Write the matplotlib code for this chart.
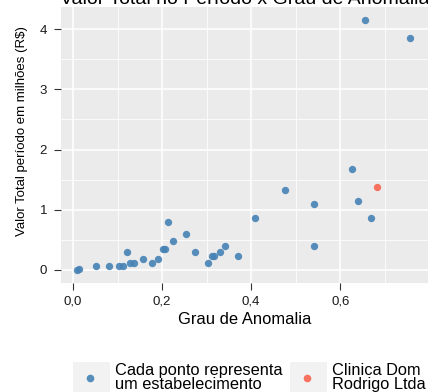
import numpy as np
import matplotlib.pyplot as plt
from matplotlib.patches import Rectangle
from matplotlib.lines import Line2D
from matplotlib.ticker import FuncFormatter, MultipleLocator

# dados
grau = [0.010, 0.013, 0.052, 0.080, 0.103, 0.112, 0.122, 0.129, 0.137, 0.158,
        0.178, 0.190, 0.202, 0.206, 0.214, 0.225, 0.254, 0.273, 0.303, 0.313,
        0.316, 0.330, 0.341, 0.370, 0.409, 0.475, 0.540, 0.540, 0.627, 0.640,
        0.655, 0.669, 0.757]
valor = [0.00, 0.01, 0.06, 0.06, 0.06, 0.06, 0.29, 0.11, 0.11, 0.175,
         0.11, 0.175, 0.34, 0.34, 0.80, 0.47, 0.59, 0.29, 0.11, 0.23,
         0.23, 0.29, 0.40, 0.23, 0.86, 1.33, 1.10, 0.40, 1.67, 1.15,
         4.15, 0.86, 3.86]
clinica_grau = [0.682]
clinica_valor = [1.38]

legend_labels = ['Cada ponto representa\num estabelecimento', 'Clinica Dom\nRodrigo Ltda']

azul = '#4682B4'
vermelho = '#F8654F'

plt.rcParams['font.family'] = ['Liberation Sans', 'DejaVu Sans']

fig = plt.figure(figsize=(4.28, 3.92), dpi=100)
ax = fig.add_axes([61 / 428, 1 - 283 / 392, 1 - 61 / 428, (283 - 7) / 392])

ax.set_facecolor('#EBEBEB')
for s in ax.spines.values():
    s.set_visible(False)

ax.xaxis.set_major_locator(MultipleLocator(0.2))
ax.xaxis.set_minor_locator(MultipleLocator(0.1))
ax.yaxis.set_major_locator(MultipleLocator(1))
ax.yaxis.set_minor_locator(MultipleLocator(0.5))
ax.grid(which='major', color='white', linewidth=1.1)
ax.grid(which='minor', color='white', linewidth=0.55)
ax.set_axisbelow(True)

ax.scatter(grau, valor, s=28, color=azul, alpha=0.9, linewidths=0, zorder=3)
ax.scatter(clinica_grau, clinica_valor, s=28, color=vermelho, alpha=0.9, linewidths=0, zorder=3)

ax.set_xlim(-0.027, 0.797)
ax.set_ylim(-0.225, 4.375)

fmt = FuncFormatter(lambda v, p: f'{v:.1f}'.replace('.', ','))
ax.xaxis.set_major_formatter(fmt)
ax.yaxis.set_major_formatter(FuncFormatter(lambda v, p: f'{v:.0f}'))
ax.tick_params(which='minor', length=0)
ax.tick_params(which='major', length=5, width=0.8, color='#333333',
               labelsize=9.5, labelcolor='#1a1a1a')
ax.tick_params(axis='x', pad=4)
ax.tick_params(axis='y', pad=5)

ax.set_xlabel('Grau de Anomalia', fontsize=11.9, labelpad=3)
ax.set_ylabel('Valor Total período em milhões (R$)', fontsize=9.5)
ax.yaxis.set_label_coords(-33 / 367, (283 - 131.5) / 276)

fig.text(60 / 428, 1 - 4 / 392, 'Valor Total no Período x Grau de Anomalia',
         fontsize=14, va='baseline', ha='left')

# legenda manual no rodapé
for kx, lab, cor in [(72.7, legend_labels[0], azul), (290, legend_labels[1], vermelho)]:
    fig.patches.append(Rectangle((kx / 428, 0), 37 / 428, (392 - 362) / 392,
                                 transform=fig.transFigure, facecolor='#F2F2F2',
                                 edgecolor='none'))
    fig.lines.append(Line2D([(kx + 17) / 428], [1 - 378 / 392], transform=fig.transFigure,
                            marker='o', markersize=5.5, color=cor, alpha=0.9,
                            markeredgewidth=0, linestyle='none'))
    fig.text((kx + 42) / 428, 1 - 377.5 / 392, lab, fontsize=11.8, va='center',
             ha='left', linespacing=0.85)

fig.savefig('out.png', dpi=100)
